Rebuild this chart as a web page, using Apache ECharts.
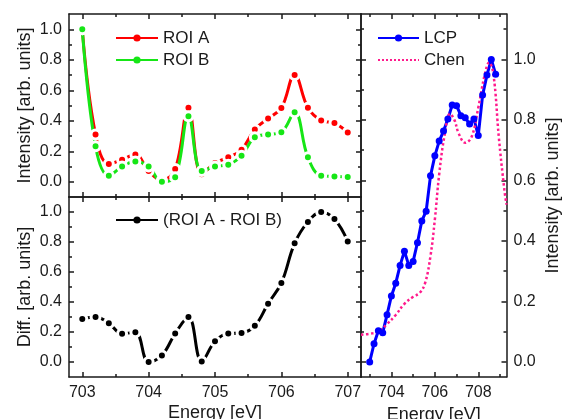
<!DOCTYPE html>
<html>
<head>
<meta charset="utf-8">
<script src="https://cdn.jsdelivr.net/npm/echarts@6/dist/echarts.min.js"></script>
<style>
  html, body { margin: 0; padding: 0; background: #fff; }
  #chart { width: 563px; height: 419px; }
</style>
</head>
<body>
<div id="chart"></div>
<script>
  // ROI spectra (top left) and their difference (bottom left)
  const energy = [703.0, 703.2, 703.4, 703.6, 703.8, 704.0, 704.2, 704.4, 704.6, 704.8, 705.0,
                  705.2, 705.4, 705.6, 705.8, 706.0, 706.2, 706.4, 706.6, 706.8, 707.0];
  const roiA = [1.0, 0.31, 0.117, 0.145, 0.178, 0.07, 0.01, 0.083, 0.486, 0.05, 0.123,
                0.16, 0.21, 0.343, 0.415, 0.483, 0.70, 0.486, 0.402, 0.385, 0.323];
  const roiB = [1.0, 0.233, 0.04, 0.10, 0.132, 0.10, 0.0, 0.03, 0.43, 0.07, 0.10,
                0.112, 0.17, 0.292, 0.31, 0.325, 0.455, 0.16, 0.04, 0.035, 0.031];
  const diff = [0.287, 0.30, 0.259, 0.189, 0.198, 0.0, 0.044, 0.19, 0.30, 0.004, 0.138,
                0.19, 0.193, 0.241, 0.389, 0.527, 0.791, 0.934, 1.0, 0.953, 0.804];

  // right panel: LCP measurement and Chen reference curve
  const lcpEnergy = [703.0, 703.2, 703.4, 703.6, 703.8, 704.0, 704.2, 704.4, 704.6, 704.8,
                     705.0, 705.2, 705.4, 705.6, 705.8, 706.0, 706.2, 706.4, 706.6, 706.8,
                     707.0, 707.2, 707.4, 707.6, 707.8, 708.0, 708.2, 708.4, 708.6, 708.8];
  const lcp = [0.0, 0.06, 0.103, 0.096, 0.156, 0.218, 0.26, 0.319, 0.366, 0.319,
               0.332, 0.394, 0.466, 0.498, 0.615, 0.681, 0.73, 0.763, 0.803, 0.849,
               0.847, 0.814, 0.807, 0.786, 0.803, 0.748, 0.882, 0.948, 1.0, 0.951];
  const chenEnergy = [702.6, 703.0, 703.4, 703.8, 704.2, 704.6, 705.0, 705.3, 705.55, 705.8,
                      706.0, 706.2, 706.45, 706.7, 706.9, 707.1, 707.4, 707.7, 708.0, 708.3,
                      708.5, 708.7, 708.95, 709.2, 709.3];
  const chen = [0.09, 0.093, 0.10, 0.125, 0.155, 0.192, 0.215, 0.228, 0.26, 0.35,
                0.47, 0.62, 0.75, 0.82, 0.80, 0.755, 0.724, 0.745, 0.84, 0.95,
                0.99, 0.95, 0.74, 0.57, 0.52];

  // tick positions
  const leftMajorX = [703, 704, 705, 706, 707];
  const leftMinorX = [703.5, 704.5, 705.5, 706.5];
  const rightMajorX = [704, 706, 708];
  const rightMinorX = [703, 705, 707, 709];
  const majorY = [0, 0.2, 0.4, 0.6, 0.8, 1.0];
  const minorY = [0.1, 0.3, 0.5, 0.7, 0.9];
  const rightMinorY = [0.1, 0.3, 0.5, 0.7, 0.9, 1.1];

  const ink = '#1a1a1a';
  const font = '"Liberation Sans", Arial, sans-serif';

  // one axis that draws a frame side and ticks pointing inwards
  function makeAxis(grid, position, min, max, ticks, len, extra) {
    const axis = {
      type: 'value',
      gridIndex: grid,
      position: position,
      min: min,
      max: max,
      axisLine: { show: len > 3, onZero: false, lineStyle: { color: ink, width: 1.5 } },
      axisTick: { show: true, inside: true, length: len, customValues: ticks,
                  lineStyle: { color: ink, width: 1.5 } },
      axisLabel: { show: false },
      splitLine: { show: false }
    };
    return Object.assign(axis, extra || {});
  }

  function xLabels(ticks) {
    return {
      axisLabel: { show: true, customValues: ticks, margin: 8, color: ink,
                   fontFamily: font, fontSize: 16 },
      name: 'Energy [eV]', nameLocation: 'middle', nameGap: 27,
      nameTextStyle: { color: ink, fontFamily: font, fontSize: 18 }
    };
  }

  function yLabels(name, gap) {
    return {
      axisLabel: { show: true, customValues: majorY, margin: 7, color: ink,
                   fontFamily: font, fontSize: 16, formatter: v => v.toFixed(1) },
      name: name, nameLocation: 'middle', nameGap: gap, nameRotate: 90,
      nameMoveOverlap: false,
      nameTextStyle: { color: ink, fontFamily: font, fontSize: 18 }
    };
  }

  const xAxes = [
    makeAxis(0, 'bottom', 702.8, 707.2, leftMajorX, 5),
    makeAxis(0, 'bottom', 702.8, 707.2, leftMinorX, 3),
    makeAxis(0, 'top', 702.8, 707.2, leftMajorX, 5),
    makeAxis(0, 'top', 702.8, 707.2, leftMinorX, 3),
    makeAxis(1, 'bottom', 702.8, 707.2, leftMajorX, 5, xLabels(leftMajorX)),
    makeAxis(1, 'bottom', 702.8, 707.2, leftMinorX, 3),
    makeAxis(1, 'top', 702.8, 707.2, leftMajorX, 5),
    makeAxis(1, 'top', 702.8, 707.2, leftMinorX, 3),
    makeAxis(2, 'bottom', 702.6, 709.3, rightMajorX, 5, xLabels(rightMajorX)),
    makeAxis(2, 'bottom', 702.6, 709.3, rightMinorX, 3),
    makeAxis(2, 'top', 702.6, 709.3, rightMajorX, 5),
    makeAxis(2, 'top', 702.6, 709.3, rightMinorX, 3)
  ];

  const yAxes = [
    makeAxis(0, 'left', -0.1, 1.1, majorY, 5, yLabels('Intensity [arb. units]', 35)),
    makeAxis(0, 'left', -0.1, 1.1, minorY, 3),
    makeAxis(0, 'right', -0.1, 1.1, majorY, 5),
    makeAxis(0, 'right', -0.1, 1.1, minorY, 3),
    makeAxis(1, 'left', -0.1, 1.1, majorY, 5, yLabels('Diff. [arb. units]', 35)),
    makeAxis(1, 'left', -0.1, 1.1, minorY, 3),
    makeAxis(1, 'right', -0.1, 1.1, majorY, 5),
    makeAxis(1, 'right', -0.1, 1.1, minorY, 3),
    makeAxis(2, 'left', -0.05, 1.15, majorY, 5),
    makeAxis(2, 'left', -0.05, 1.15, rightMinorY, 3),
    makeAxis(2, 'right', -0.05, 1.15, majorY, 5, yLabels('Intensity [arb. units]', 38)),
    makeAxis(2, 'right', -0.05, 1.15, rightMinorY, 3)
  ];

  function pairs(xs, ys) {
    return xs.map((x, i) => [x, ys[i]]);
  }

  // line + symbol with a white ring so the line breaks around each dot
  function gapSeries(name, color, xs, ys, xi, yi) {
    return {
      name: name,
      type: 'line',
      xAxisIndex: xi,
      yAxisIndex: yi,
      smooth: 0.4,
      symbol: 'circle',
      symbolSize: 9,
      itemStyle: { color: color, borderColor: '#fff', borderWidth: 3 },
      lineStyle: { color: color, width: 3 },
      data: pairs(xs, ys)
    };
  }

  const legendText = { color: ink, fontFamily: font, fontSize: 17, lineHeight: 20 };

  const chart = echarts.init(document.getElementById('chart'));
  chart.setOption({
    animation: false,
    backgroundColor: '#fff',
    grid: [
      { left: 69, top: 14, width: 292, height: 183, outerBoundsMode: 'none' },
      { left: 69, top: 197, width: 292, height: 180, outerBoundsMode: 'none' },
      { left: 361, top: 14, width: 145.5, height: 363, outerBoundsMode: 'none' }
    ],
    legend: [
      { left: 115, top: 28, padding: 0, orient: 'vertical', itemWidth: 42, itemHeight: 9,
        itemGap: 2, data: ['ROI A', 'ROI B'], textStyle: legendText,
        itemStyle: { borderWidth: 0 } },
      { left: 115, top: 210, padding: 0, orient: 'vertical', itemWidth: 42, itemHeight: 9,
        data: ['(ROI A - ROI B)'], textStyle: legendText, itemStyle: { borderWidth: 0 } },
      { left: 377, top: 28, padding: 0, orient: 'vertical', itemWidth: 41, itemHeight: 9,
        itemGap: 2, textStyle: legendText, itemStyle: { borderWidth: 0 },
        data: ['LCP', { name: 'Chen', itemStyle: { opacity: 0 } }] }
    ],
    xAxis: xAxes,
    yAxis: yAxes,
    series: [
      gapSeries('ROI A', '#ff0000', energy, roiA, 0, 0),
      gapSeries('ROI B', '#16e616', energy, roiB, 0, 0),
      gapSeries('(ROI A - ROI B)', '#000000', energy, diff, 4, 4),
      {
        name: 'LCP',
        type: 'line',
        xAxisIndex: 8,
        yAxisIndex: 10,
        symbol: 'circle',
        symbolSize: 7,
        itemStyle: { color: '#0000ff' },
        lineStyle: { color: '#0000ff', width: 3 },
        data: pairs(lcpEnergy, lcp)
      },
      {
        name: 'Chen',
        type: 'line',
        xAxisIndex: 8,
        yAxisIndex: 10,
        smooth: 0.4,
        symbol: 'none',
        itemStyle: { color: '#ff1a8c' },
        lineStyle: { color: '#ff1a8c', width: 2.5, type: 'dotted' },
        data: pairs(chenEnergy, chen)
      }
    ]
  });
</script>
</body>
</html>
